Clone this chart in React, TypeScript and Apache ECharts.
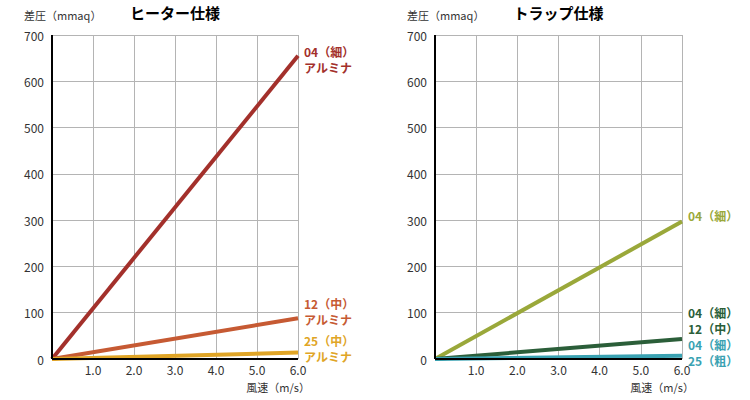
import React, { useEffect, useRef } from "react";
import * as echarts from "echarts";

const windSpeed = [0, 6.0];
const xTicks = ["1.0", "2.0", "3.0", "4.0", "5.0", "6.0"];

const heaterNames = ["04（細）\nアルミナ", "12（中）\nアルミナ", "25（中）\nアルミナ"];
const heater04 = [0, 655];
const heater12 = [0, 88];
const heater25 = [0, 14];
const heaterColors = ["#a3302b", "#c65a33", "#e0a526"];

const trapNames = ["04（細）", "04（細）\n12（中）", "04（細）\n25（粗）"];
const trap04 = [0, 297];
const trap12 = [0, 43];
const trap25 = [0, 7];
const trapColors = ["#9aa83a", "#2b5e39", "#3aa2b2"];

const titles = ["ヒーター仕様", "トラップ仕様"];
const yName = "差圧（mmaq）";
const xName = "風速（m/s）";

const FONT = "'Noto Sans CJK JP', 'Noto Sans', sans-serif";

export default function App() {
  const ref = useRef<HTMLDivElement>(null);
  useEffect(() => {
    if (!ref.current) return;
    const chart = echarts.init(ref.current, null, { renderer: "svg" });
    const grids = [
      { left: 52, top: 35, width: 246, height: 324 },
      { left: 435, top: 35, width: 247, height: 324 },
    ];
    const xAxes = grids.map((_, i) => ({
      type: "value",
      gridIndex: i,
      min: 0,
      max: 6,
      interval: 1,
      axisLine: { show: false },
      axisTick: { show: false },
      splitLine: { show: true, lineStyle: { color: "#b4b4b4", width: 1 } },
      axisLabel: {
        color: "#333",
        fontSize: 12,
        fontFamily: FONT,
        margin: 4,
        formatter: (v: number) => (v === 0 ? "" : xTicks[Math.round(v) - 1]),
      },
    }));
    const yAxes = grids.map((_, i) => ({
      type: "value",
      gridIndex: i,
      min: 0,
      max: 700,
      interval: 100,
      axisLine: { show: false },
      axisTick: { show: false },
      splitLine: { show: true, lineStyle: { color: "#b4b4b4", width: 1 } },
      axisLabel: { color: "#333", fontSize: 12, fontFamily: FONT, margin: 8 },
    }));
    const mk = (
      name: string,
      vals: number[],
      color: string,
      idx: number,
      offsetY: number
    ) => {
      const fmt = name
        .split("\n")
        .map((l) => `{a|${l}}`)
        .join("\n");
      return {
        type: "line",
        name,
        xAxisIndex: idx,
        yAxisIndex: idx,
        data: windSpeed.map((x, k) => [x, vals[k]]),
        showSymbol: false,
        clip: false,
        z: 3,
        lineStyle: { color, width: 4 },
        endLabel: {
          show: true,
          formatter: fmt,
          offset: [-2, offsetY],
          rich: {
            a: {
              color,
              fontSize: 12,
              fontWeight: "bold",
              fontFamily: FONT,
              lineHeight: 16,
            },
          },
        },
      };
    };
    const series = [
      mk(heaterNames[0], heater04, heaterColors[0], 0, 4),
      mk(heaterNames[1], heater12, heaterColors[1], 0, -7),
      mk(heaterNames[2], heater25, heaterColors[2], 0, -4),
      mk(trapNames[0], trap04, trapColors[0], 1, -6),
      mk(trapNames[1], trap12, trapColors[1], 1, -19),
      mk(trapNames[2], trap25, trapColors[2], 1, -3),
    ];
    const axisLines: any[] = [];
    grids.forEach((g) => {
      axisLines.push({
        type: "line",
        shape: { x1: g.left, y1: g.top, x2: g.left, y2: g.top + g.height },
        style: { stroke: "#000", lineWidth: 2 },
        z: 10,
      });
      axisLines.push({
        type: "line",
        shape: { x1: g.left, y1: g.top + g.height, x2: g.left + g.width, y2: g.top + g.height },
        style: { stroke: "#000", lineWidth: 2 },
        z: 10,
      });
    });
    const texts: any[] = [];
    grids.forEach((g, i) => {
      texts.push({
        type: "text",
        x: g.left - 28,
        y: 15,
        style: {
          text: yName,
          fill: "#333",
          font: `11px ${FONT}`,
          align: "left",
          verticalAlign: "middle",
        },
      });
      texts.push({
        type: "text",
        x: g.left + g.width / 2,
        y: 12,
        style: {
          text: titles[i],
          fill: "#000",
          font: `bold 15px ${FONT}`,
          align: "center",
          verticalAlign: "middle",
        },
      });
      texts.push({
        type: "text",
        x: g.left + g.width + 12,
        y: 387,
        style: {
          text: xName,
          fill: "#333",
          font: `11px ${FONT}`,
          align: "right",
          verticalAlign: "middle",
        },
      });
    });
    chart.setOption({
      animation: false,
      backgroundColor: "#fff",
      grid: grids.map((g) => ({ ...g, containLabel: false })),
      xAxis: xAxes,
      yAxis: yAxes,
      series,
      graphic: [...axisLines, ...texts],
    });
    return () => chart.dispose();
  }, []);
  return (
    <div
      ref={ref}
      style={{ position: "absolute", left: 0, top: 0, width: 750, height: 400 }}
    />
  );
}
